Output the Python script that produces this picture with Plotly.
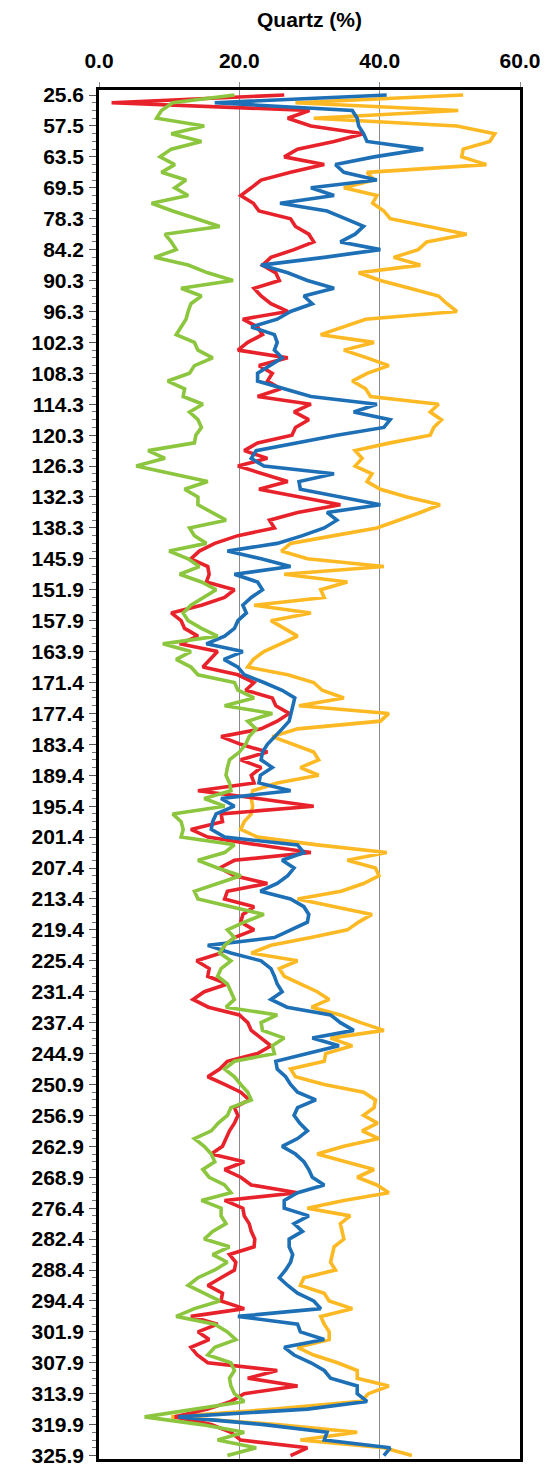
import plotly.graph_objects as go

# Depth labels shown on the vertical axis (one every SAMPLES_PER_LABEL samples)
DEPTH_LABELS = ["25.6", "57.5", "63.5", "69.5", "78.3", "84.2", "90.3", "96.3", "102.3", "108.3",
                "114.3", "120.3", "126.3", "132.3", "138.3", "145.9", "151.9", "157.9", "163.9", "171.4",
                "177.4", "183.4", "189.4", "195.4", "201.4", "207.4", "213.4", "219.4", "225.4", "231.4",
                "237.4", "244.9", "250.9", "256.9", "262.9", "268.9", "276.4", "282.4", "288.4", "294.4",
                "301.9", "307.9", "313.9", "319.9", "325.9"]
SAMPLES_PER_LABEL = 4
X_TICKS = [0, 20, 40, 60]
X_TICK_TEXT = ["0.0", "20.0", "40.0", "60.0"]

YELLOW = [51.9, 28.0, 51.2, 30.6, 51.0, 56.4, 55.7, 51.9, 51.7, 55.2, 38.2, 39.2, 34.9, 39.6, 39.0,
          40.6, 41.5, 47.2, 52.4, 46.7, 45.5, 42.0, 45.8, 37.0, 40.1, 44.3, 48.4, 49.6, 51.0, 38.0,
          34.9, 31.6, 39.2, 34.9, 38.2, 41.3, 38.2, 36.1, 38.0, 38.7, 48.4, 47.2, 48.8, 47.7, 47.2,
          41.5, 36.5, 37.5, 36.5, 38.9, 38.2, 40.1, 43.9, 48.6, 45.8, 42.7, 39.6, 33.5, 27.3, 26.0,
          29.7, 40.6, 26.4, 35.4, 31.6, 32.1, 22.1, 30.2, 24.5, 26.4, 28.3, 25.9, 23.5, 22.0, 21.2,
          26.9, 30.6, 31.8, 34.9, 28.5, 41.3, 40.1, 28.3, 24.7, 27.8, 30.6, 31.3, 28.7, 31.3, 25.4,
          21.9, 21.7, 21.9, 21.7, 20.7, 20.2, 22.6, 31.1, 41.0, 35.4, 39.4, 39.9, 37.7, 34.5, 28.3,
          33.5, 38.9, 37.0, 35.4, 30.2, 24.5, 21.7, 28.3, 25.7, 26.4, 28.7, 31.1, 32.8, 30.3, 34.4,
          37.3, 40.6, 33.0, 36.1, 32.3, 32.1, 27.3, 28.0, 32.1, 37.7, 39.4, 39.2, 37.7, 39.7, 37.5,
          39.9, 34.9, 31.1, 35.4, 39.2, 36.8, 39.6, 41.3, 34.9, 29.7, 35.8, 34.4, 34.7, 34.9, 33.5,
          33.2, 33.0, 33.7, 29.2, 28.7, 32.1, 32.8, 36.1, 31.6, 32.1, 32.8, 32.8, 28.3, 30.6, 34.0,
          36.8, 36.8, 41.3, 38.4, 37.3, 25.0, 10.3, 25.4, 36.8, 28.7, 40.6, 44.6]

RED = [26.4, 1.8, 30.0, 26.9, 30.2, 37.7, 33.5, 28.3, 26.4, 32.1, 27.3, 23.1, 21.7, 20.2, 22.0,
       22.8, 27.3, 28.0, 29.9, 30.6, 27.8, 24.5, 23.3, 25.2, 25.7, 22.1, 23.1, 24.5, 26.9, 20.5,
       22.6, 23.3, 21.2, 19.8, 26.9, 22.8, 24.7, 24.0, 25.9, 22.6, 30.2, 27.8, 29.9, 28.0, 27.5,
       22.6, 20.7, 24.0, 19.8, 23.5, 26.9, 22.8, 28.7, 34.4, 28.3, 24.3, 25.0, 19.8, 16.5, 14.3,
       13.1, 15.5, 15.7, 15.3, 19.3, 17.9, 14.6, 10.3, 11.7, 12.2, 14.1, 11.5, 16.9, 15.8, 14.8,
       19.8, 22.1, 20.9, 24.7, 25.2, 27.1, 25.4, 23.1, 17.4, 20.2, 24.0, 20.2, 23.1, 21.7, 22.1,
       14.1, 22.6, 30.6, 17.4, 17.6, 13.1, 15.5, 22.6, 30.2, 19.3, 17.2, 19.3, 24.0, 18.3, 17.9,
       22.1, 20.5, 20.2, 22.1, 19.3, 17.9, 17.4, 13.9, 15.7, 15.5, 18.3, 15.0, 13.4, 15.6, 20.0,
       21.2, 21.7, 23.1, 24.5, 22.6, 18.3, 17.2, 15.5, 17.9, 20.2, 21.4, 19.3, 19.8, 19.3, 18.6,
       18.1, 17.6, 16.0, 20.7, 17.9, 20.2, 21.7, 28.3, 17.9, 20.5, 20.7, 21.4, 21.7, 22.2, 22.1,
       18.6, 19.5, 19.3, 17.4, 15.5, 17.6, 17.4, 20.7, 13.1, 16.9, 14.1, 15.7, 13.1, 14.0, 15.5,
       25.4, 21.2, 28.3, 20.7, 18.8, 15.5, 10.8, 16.0, 18.8, 20.2, 29.7, 27.3]

BLUE = [41.0, 16.5, 36.1, 36.8, 37.0, 37.7, 38.2, 46.2, 39.2, 33.7, 34.9, 39.6, 30.2, 33.5, 25.8,
        32.5, 35.1, 37.7, 36.5, 34.4, 40.1, 32.1, 23.1, 26.9, 29.7, 33.5, 29.2, 30.4, 27.3, 25.4,
        21.7, 25.0, 25.4, 25.0, 26.1, 24.3, 22.6, 22.6, 26.4, 30.2, 39.6, 36.3, 41.5, 40.6, 33.9,
        28.3, 22.4, 21.7, 23.5, 33.5, 28.5, 28.7, 34.4, 40.1, 32.5, 33.9, 32.1, 29.0, 25.4, 18.3,
        23.1, 27.3, 19.3, 22.6, 23.3, 21.7, 20.5, 21.0, 19.8, 19.3, 17.9, 15.3, 20.5, 17.8, 19.8,
        20.7, 23.5, 26.1, 27.9, 27.6, 27.3, 27.1, 26.1, 25.0, 24.0, 23.3, 23.1, 24.7, 23.0, 22.8,
        27.3, 17.4, 19.3, 16.7, 16.2, 16.0, 17.9, 28.3, 29.2, 26.1, 27.8, 26.9, 25.4, 23.0, 27.3,
        29.2, 29.9, 29.7, 27.3, 25.0, 15.5, 18.8, 23.1, 24.5, 25.0, 25.4, 26.1, 24.5, 26.8, 33.0,
        34.4, 36.3, 30.4, 34.2, 29.7, 25.2, 25.4, 26.6, 27.3, 28.3, 30.9, 28.3, 27.8, 28.6, 29.7,
        28.3, 26.1, 28.0, 29.2, 29.9, 30.4, 32.1, 28.3, 26.4, 26.4, 29.9, 27.8, 29.0, 27.1, 27.1,
        27.6, 27.3, 26.6, 25.7, 26.9, 28.3, 30.6, 31.6, 19.8, 28.3, 28.7, 32.1, 26.4, 27.8, 30.2,
        32.1, 33.0, 36.8, 36.8, 38.2, 29.7, 11.3, 23.5, 32.5, 32.1, 41.5, 40.6]

GREEN = [19.3, 10.5, 8.9, 8.2, 15.0, 10.3, 14.6, 10.3, 8.7, 10.8, 8.9, 12.4, 10.8, 12.7, 7.5,
         10.5, 13.9, 17.2, 9.4, 10.3, 11.0, 7.9, 12.7, 15.5, 19.1, 11.7, 14.6, 13.1, 12.7, 12.4,
         11.7, 11.0, 13.6, 14.1, 16.2, 13.6, 12.9, 9.8, 12.2, 12.0, 14.8, 12.9, 14.1, 14.6, 13.8,
         13.6, 7.0, 9.4, 5.3, 10.3, 15.5, 12.2, 14.1, 14.1, 16.0, 18.1, 12.9, 13.6, 15.3, 10.0,
         12.7, 14.3, 11.5, 14.6, 16.7, 15.0, 13.1, 12.0, 12.7, 14.6, 16.9, 9.1, 13.1, 11.0, 13.1,
         14.1, 19.3, 19.8, 22.1, 17.9, 24.7, 21.2, 22.4, 21.4, 20.9, 20.0, 18.6, 18.3, 18.1, 18.6,
         18.8, 15.0, 17.9, 10.5, 11.7, 12.0, 11.7, 19.3, 17.9, 14.1, 16.9, 20.2, 16.9, 13.6, 14.1,
         18.8, 23.5, 20.7, 18.3, 19.3, 17.9, 17.2, 18.8, 17.4, 16.9, 18.3, 18.8, 19.3, 18.1, 25.4,
         23.1, 23.3, 26.4, 24.7, 25.0, 19.3, 17.9, 19.3, 20.2, 21.2, 21.7, 18.8, 18.3, 17.0, 16.0,
         13.6, 15.0, 16.0, 16.5, 14.8, 15.7, 17.9, 18.8, 14.6, 17.4, 17.4, 18.1, 16.2, 15.0, 18.6,
         16.2, 18.3, 16.5, 14.1, 12.7, 15.0, 17.2, 13.6, 11.0, 16.5, 18.3, 19.5, 16.5, 15.5, 18.8,
         19.3, 18.6, 18.8, 19.3, 20.7, 13.6, 6.5, 14.6, 20.7, 16.9, 22.4, 18.3]

SERIES = [("Yellow", YELLOW, "#FDB924"),
          ("Red", RED, "#E8222B"),
          ("Blue", BLUE, "#1D6FB6"),
          ("Green", GREEN, "#8CC63F")]

n = len(RED)
sample_idx = list(range(n))
tick_vals = [i * SAMPLES_PER_LABEL for i in range(len(DEPTH_LABELS))]

fig = go.Figure()
for name, vals, color in SERIES:
    fig.add_trace(go.Scatter(x=vals, y=sample_idx, mode="lines", name=name,
                             line=dict(color=color, width=3.6), showlegend=False))

FONT = "Liberation Sans, Arial, Helvetica, sans-serif"

# the page adds an 8px body margin; the figure is sized so the plot frame lands where the reference has it
fig.update_layout(
    width=540, height=1461,
    margin=dict(l=91, r=28, t=82, b=10, autoexpand=False),
    paper_bgcolor="white", plot_bgcolor="white",
    font=dict(family=FONT, color="black"),
    xaxis=dict(
        side="top", range=[0, 60], tickvals=X_TICKS, ticktext=X_TICK_TEXT,
        tickfont=dict(size=21, family=FONT, weight="bold"),
        title=dict(text="<b>Quartz (%)</b>", font=dict(size=21, family=FONT), standoff=20),
        showgrid=True, gridcolor="#8c8c8c", gridwidth=1,
        ticks="outside", ticklen=5, tickcolor="#8c8c8c",
        ticklabelstandoff=6, automargin=False,
        showline=True, linecolor="black", linewidth=2.5, mirror=True, zeroline=False,
    ),
    yaxis=dict(
        range=[n - 1 + 0.45, -0.65], tickvals=tick_vals, ticktext=DEPTH_LABELS,
        tickfont=dict(size=21, family=FONT, weight="bold"),
        showgrid=False, ticks="outside", ticklen=7, tickcolor="#555555",
        ticklabelstandoff=1, automargin=False,
        minor=dict(ticks="outside", ticklen=4, dtick=1, tickcolor="#777777", showgrid=False),
        showline=True, linecolor="black", linewidth=2.5, mirror=True, zeroline=False,
    ),
)

fig.write_html("out.html")
